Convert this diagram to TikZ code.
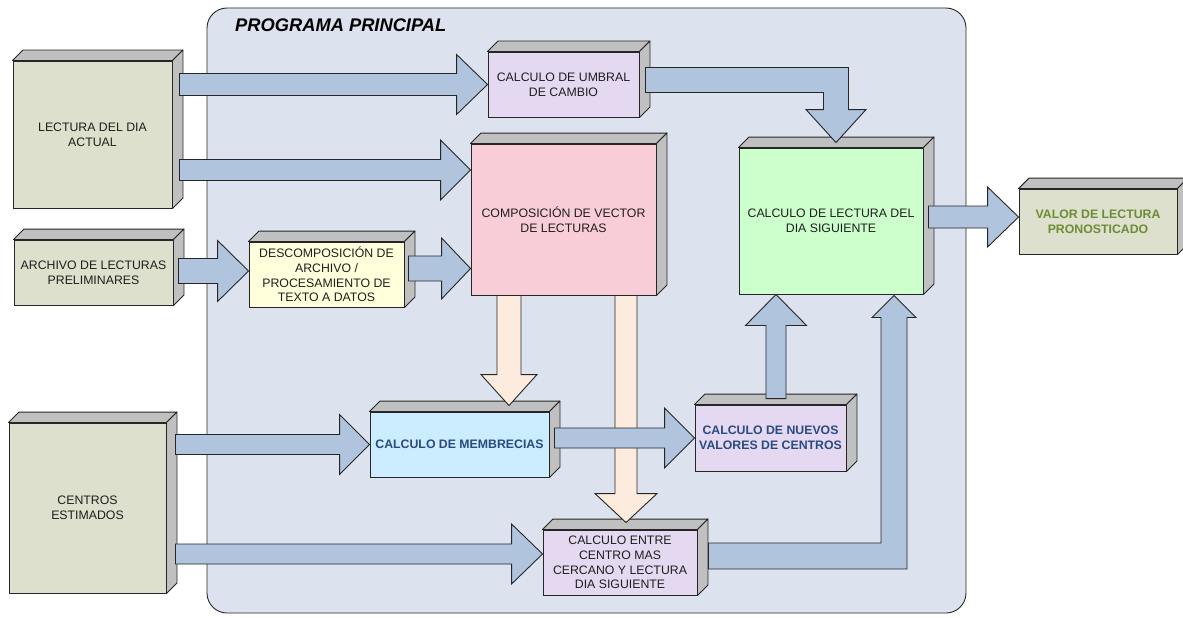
\documentclass[tikz,border=0pt]{standalone}
\usepackage{fontspec}
\setmainfont{Liberation Sans}
\usetikzlibrary{calc}

\definecolor{framebg}{RGB}{220,227,238}
\definecolor{edge}{RGB}{38,38,38}
\definecolor{sideg}{RGB}{192,192,192}
\definecolor{tan}{RGB}{221,224,204}
\definecolor{lav}{RGB}{229,217,241}
\definecolor{pinkf}{RGB}{249,205,216}
\definecolor{yel}{RGB}{255,255,219}
\definecolor{lblue}{RGB}{204,236,255}
\definecolor{lgreen}{RGB}{204,255,204}
\definecolor{arrowblue}{RGB}{176,196,222}
\definecolor{arrowpeach}{RGB}{253,236,222}
\definecolor{txt}{RGB}{30,30,30}
\definecolor{darkblue}{RGB}{41,75,128}
\definecolor{olive}{RGB}{110,140,55}

\tikzset{
  boxfront/.style={draw=edge, line width=0.9pt, inner sep=2pt, align=center,
    text=txt, font=\fontsize{12.3}{14.7}\selectfont},
  boxface/.style={draw=edge, line width=0.9pt, fill=sideg, line join=round},
  boldblue/.style={text=darkblue, font=\fontsize{12.3}{14.7}\selectfont\bfseries},
  boldolive/.style={text=olive, font=\fontsize{12.3}{14.7}\selectfont\bfseries},
  blu/.style={draw=edge, line width=0.9pt, fill=arrowblue, line join=miter},
  pch/.style={draw=edge, line width=0.9pt, fill=arrowpeach, line join=miter},
}

% 3D box: name, centre, width, height, extra style, text
\newcommand\cubebox[6]{%
  \node[boxfront, minimum width=#3, minimum height=#4, #5] (#1) at (#2) {#6};
  \draw[boxface] (#1.north west) -- ++(10.5,-10.5) -- ($(#1.north east)+(10.5,-10.5)$) -- (#1.north east) -- cycle;
  \draw[boxface] (#1.north east) -- ++(10.5,-10.5) -- ($(#1.south east)+(10.5,-10.5)$) -- (#1.south east) -- cycle;
}

% straight block arrow: style, start, tip, shaft half width, head half width, head length
\newcommand\blockarrow[6]{%
  \path ($(#3)!#6!(#2)$) coordinate (hb);
  \draw[#1] ($(#2)!#4!90:(#3)$) -- ($(hb)!#4!90:(#3)$) -- ($(hb)!#5!90:(#3)$) -- (#3)
    -- ($(hb)!#5!-90:(#3)$) -- ($(hb)!#4!-90:(#3)$) -- ($(#2)!#4!-90:(#3)$) -- cycle;
}

\begin{document}
\begin{tikzpicture}[x=1pt, y=-1pt]
\useasboundingbox (0,0) rectangle (1183,618);
\clip (0,0) rectangle (1183,618);

% main program frame
\node[draw=edge, line width=0.9pt, fill=framebg, rounded corners=20pt,
      minimum width=759pt, minimum height=605pt, inner sep=0pt] (main) at (586.5,310.5) {};
\node[anchor=west, inner sep=0pt, text=black,
      font=\fontsize{18.3}{22}\selectfont\bfseries\itshape] (title) at (235,25) {PROGRAMA PRINCIPAL};

% boxes
\cubebox{lect}{92.5,134.5}{159pt}{147pt}{fill=tan}{LECTURA DEL DIA\\ACTUAL}
\cubebox{archivo}{93.5,272.5}{159pt}{65pt}{fill=tan}{ARCHIVO DE LECTURAS\\PRELIMINARES}
\cubebox{centros}{87.5,508}{157pt}{170pt}{fill=tan}{CENTROS\\ESTIMADOS}
\cubebox{umbral}{563.5,84.5}{151pt}{65pt}{fill=lav}{CALCULO DE UMBRAL\\DE CAMBIO}
\cubebox{compos}{563.5,219.5}{185pt}{151pt}{fill=pinkf}{COMPOSICIÓN DE VECTOR\\DE LECTURAS}
\cubebox{descomp}{326.5,274.5}{155pt}{65pt}{fill=yel}{DESCOMPOSICIÓN DE\\ARCHIVO /\\PROCESAMIENTO DE\\TEXTO A DATOS}
\cubebox{membre}{459.5,444.5}{179pt}{65pt}{fill=lblue, boldblue}{CALCULO DE MEMBRECIAS}
\cubebox{nuevos}{770.5,438}{151pt}{66pt}{fill=lav, boldblue}{CALCULO DE NUEVOS\\VALORES DE CENTROS}
\cubebox{entre}{620,562.5}{154pt}{65pt}{fill=lav}{CALCULO ENTRE\\CENTRO MAS\\CERCANO Y LECTURA\\DIA SIGUIENTE}
\cubebox{green}{831,221}{184pt}{146pt}{fill=lgreen}{CALCULO DE LECTURA DEL\\DIA SIGUIENTE}
\cubebox{valor}{1098,221.5}{158pt}{65pt}{fill=tan, boldolive}{VALOR DE LECTURA\\PRONOSTICADO}

% arrow end points
\coordinate (a1t) at (umbral.west);
\coordinate (a1s) at ($(lect.east |- a1t)+(7,0)$);
\coordinate (a2t) at ($(compos.west)+(0,-49.5)$);
\coordinate (a2s) at ($(lect.east |- a2t)+(7,0)$);
\coordinate (a3t) at ($(descomp.west)+(0,-3.5)$);
\coordinate (a3s) at ($(archivo.east |- a3t)+(5,0)$);
\coordinate (a4t) at ($(compos.west |- descomp.west)+(0,-6)$);
\coordinate (a4s) at ($(descomp.east |- a4t)+(4,0)$);
\coordinate (a5s) at ($(umbral.east)+(6,-4.5)$);
\coordinate (a5t) at ($(green.north)+(5,-5)$);
\coordinate (a6t) at ($(valor.west)+(0,-4.5)$);
\coordinate (a6s) at ($(green.east |- a6t)+(5,0)$);
\coordinate (a7t) at (membre.west);
\coordinate (a7s) at ($(centros.east |- a7t)+(9,0)$);
\coordinate (a8t) at ($(entre.west)+(0,-8.5)$);
\coordinate (a8s) at ($(centros.east |- a8t)+(9,0)$);
\coordinate (a9t) at (nuevos.west);
\coordinate (a9s) at ($(membre.east |- a9t)+(5,0)$);
\coordinate (a10t) at ($(green.south)+(-55,0)$);
\coordinate (a10s) at ($(nuevos.north -| a10t)+(0,-6)$);
\coordinate (a11s) at ($(entre.east)+(11,-6.5)$);
\coordinate (a11t) at ($(green.south)+(63,1)$);
\coordinate (a12s) at ($(compos.south)+(-54.5,0)$);
\coordinate (a12t) at ($(membre.north -| a12s)+(0,-6)$);
\coordinate (a13s) at ($(compos.south)+(62.5,0)$);
\coordinate (a13t) at ($(entre.north -| a13s)+(0,-7)$);

% peach arrows out of the vector composition
\blockarrow{pch}{a12s}{a12t}{12pt}{28pt}{31pt}
\blockarrow{pch}{a13s}{a13t}{11pt}{31pt}{29pt}

% blue arrows
\blockarrow{blu}{a1s}{a1t}{11pt}{30pt}{31pt}
\blockarrow{blu}{a2s}{a2t}{10.5pt}{30pt}{30pt}
\blockarrow{blu}{a3s}{a3t}{12.5pt}{30.5pt}{31pt}
\blockarrow{blu}{a4s}{a4t}{12.5pt}{30.5pt}{29pt}
\blockarrow{blu}{a6s}{a6t}{11pt}{30pt}{31pt}
\blockarrow{blu}{a7s}{a7t}{10pt}{30pt}{30pt}
\blockarrow{blu}{a8s}{a8t}{10pt}{30pt}{31pt}
\blockarrow{blu}{a9s}{a9t}{10pt}{30pt}{30pt}
\blockarrow{blu}{a10s}{a10t}{10pt}{30.5pt}{31pt}

% elbow arrow: threshold to next-day reading
\draw[blu] ($(a5s)+(0,-12.5)$) -- ($(a5t |- a5s)+(12.5,-12.5)$) -- ($(a5t)+(12.5,-33)$)
  -- ($(a5t)+(30,-33)$) -- (a5t) -- ($(a5t)+(-30,-33)$) -- ($(a5t)+(-12.5,-33)$)
  -- ($(a5t |- a5s)+(-12.5,12.5)$) -- ($(a5s)+(0,12.5)$) -- cycle;

% elbow arrow: nearest centre to next-day reading
\draw[blu] ($(a11s)+(0,-13)$) -- ($(a11t |- a11s)+(-13,-13)$) -- ($(a11t)+(-13,22)$)
  -- ($(a11t)+(-22,22)$) -- (a11t) -- ($(a11t)+(22,22)$) -- ($(a11t)+(13,22)$)
  -- ($(a11t |- a11s)+(13,13)$) -- ($(a11s)+(0,13)$) -- cycle;
\end{tikzpicture}
\end{document}
